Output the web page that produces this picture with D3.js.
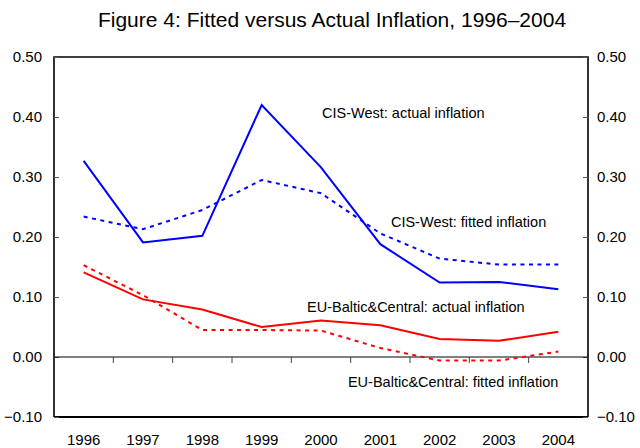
<!DOCTYPE html>
<html><head><meta charset="utf-8">
<script src="https://cdn.jsdelivr.net/npm/d3@7"></script>
<style>
body{margin:0;background:#fff;}
text{font-family:"Liberation Sans",Arial,sans-serif;fill:#000;}
</style></head>
<body>
<svg id="c" width="640" height="448"></svg>
<script>
const years = ["1996","1997","1998","1999","2000","2001","2002","2003","2004"];
const cisActual = [0.327,0.191,0.202,0.420,0.316,0.188,0.124,0.125,0.113];
const cisFitted = [0.234,0.213,0.245,0.295,0.273,0.206,0.164,0.154,0.154];
const euActual = [0.141,0.096,0.079,0.050,0.061,0.053,0.030,0.027,0.042];
const euFitted = [0.153,0.103,0.045,0.045,0.044,0.015,-0.006,-0.006,0.009];
const yTicks = [0.5,0.4,0.3,0.2,0.1,0.0,-0.1];
const title = "Figure 4: Fitted versus Actual Inflation, 1996\u20132004";
const labels = [
  {t:"CIS-West: actual inflation", x:"2000", v:0.4067, dx:30.7},
  {t:"CIS-West: fitted inflation", x:"2001", v:0.225, dx:40.3},
  {t:"EU-Baltic&Central: actual inflation", x:"2000", v:0.0833, dx:15.7},
  {t:"EU-Baltic&Central: fitted inflation", x:"2001", v:-0.0417, dx:-2.7}
];

const svg = d3.select("#c");
const L=54, R=588, T=57, B=417;
const x = d3.scaleBand().domain(years).range([L,R]);
const y = d3.scaleLinear().domain([-0.1,0.5]).range([B,T]);
const fmt = d3.format(".2f");

svg.append("text").attr("x",332).attr("y",27).attr("text-anchor","middle")
  .style("font-size","21px").text(title);

// frame
svg.append("path").attr("d",`M${L},${B}V${T}H${R}V${B}`).attr("fill","none").attr("stroke","#000").attr("stroke-width",1.6);
svg.append("line").attr("x1",L).attr("x2",R).attr("y1",B).attr("y2",B).attr("stroke","#000").attr("stroke-width",2.2);

// y axes
const yl = svg.append("g").attr("transform",`translate(${L},0)`)
  .call(d3.axisRight(y).tickValues(yTicks).tickSize(5).tickFormat(""));
yl.select(".domain").remove();
yl.selectAll("line").attr("stroke","#555");
const yr = svg.append("g").attr("transform",`translate(${R},0)`)
  .call(d3.axisLeft(y).tickValues(yTicks).tickSize(5).tickFormat(""));
yr.select(".domain").remove();
yr.selectAll("line").attr("stroke","#555");

yTicks.forEach(v=>{
  svg.append("text").attr("x",L-12).attr("y",y(v)).attr("dy","0.35em").attr("text-anchor","end")
    .style("font-size","15px").text(fmt(v));
  svg.append("text").attr("x",R+9).attr("y",y(v)).attr("dy","0.35em").attr("text-anchor","start")
    .style("font-size","15px").text(fmt(v));
});

// zero line with boundary ticks
svg.append("line").attr("x1",L).attr("x2",R).attr("y1",y(0)).attr("y2",y(0)).attr("stroke","#000").attr("stroke-width",1);
years.slice(1).forEach(yr_=>{
  const xx = x(yr_);
  svg.append("line").attr("x1",xx).attr("x2",xx).attr("y1",y(0)).attr("y2",y(0)+6).attr("stroke","#444").attr("stroke-width",1);
});

// x labels
years.forEach(yy=>{
  svg.append("text").attr("x",x(yy)+x.bandwidth()/2).attr("y",445).attr("text-anchor","middle")
    .style("font-size","15px").text(yy);
});

const line = d3.line().x((d,i)=>x(years[i])+x.bandwidth()/2).y(d=>y(d));
const series = [
  {d:cisActual,c:"#0000ff",dash:null},
  {d:cisFitted,c:"#0000ff",dash:"4,4.5"},
  {d:euActual,c:"#ff0000",dash:null},
  {d:euFitted,c:"#ff0000",dash:"4,4.5"}
];
series.forEach(s=>{
  svg.append("path").attr("d",line(s.d)).attr("fill","none").attr("stroke",s.c)
    .attr("stroke-width",2).attr("stroke-dasharray",s.dash);
});

labels.forEach(l=>{
  svg.append("text").attr("x",x(l.x)+l.dx).attr("y",y(l.v)).attr("dy","0.35em")
    .style("font-size","14.5px").text(l.t);
});
</script>
</body></html>
